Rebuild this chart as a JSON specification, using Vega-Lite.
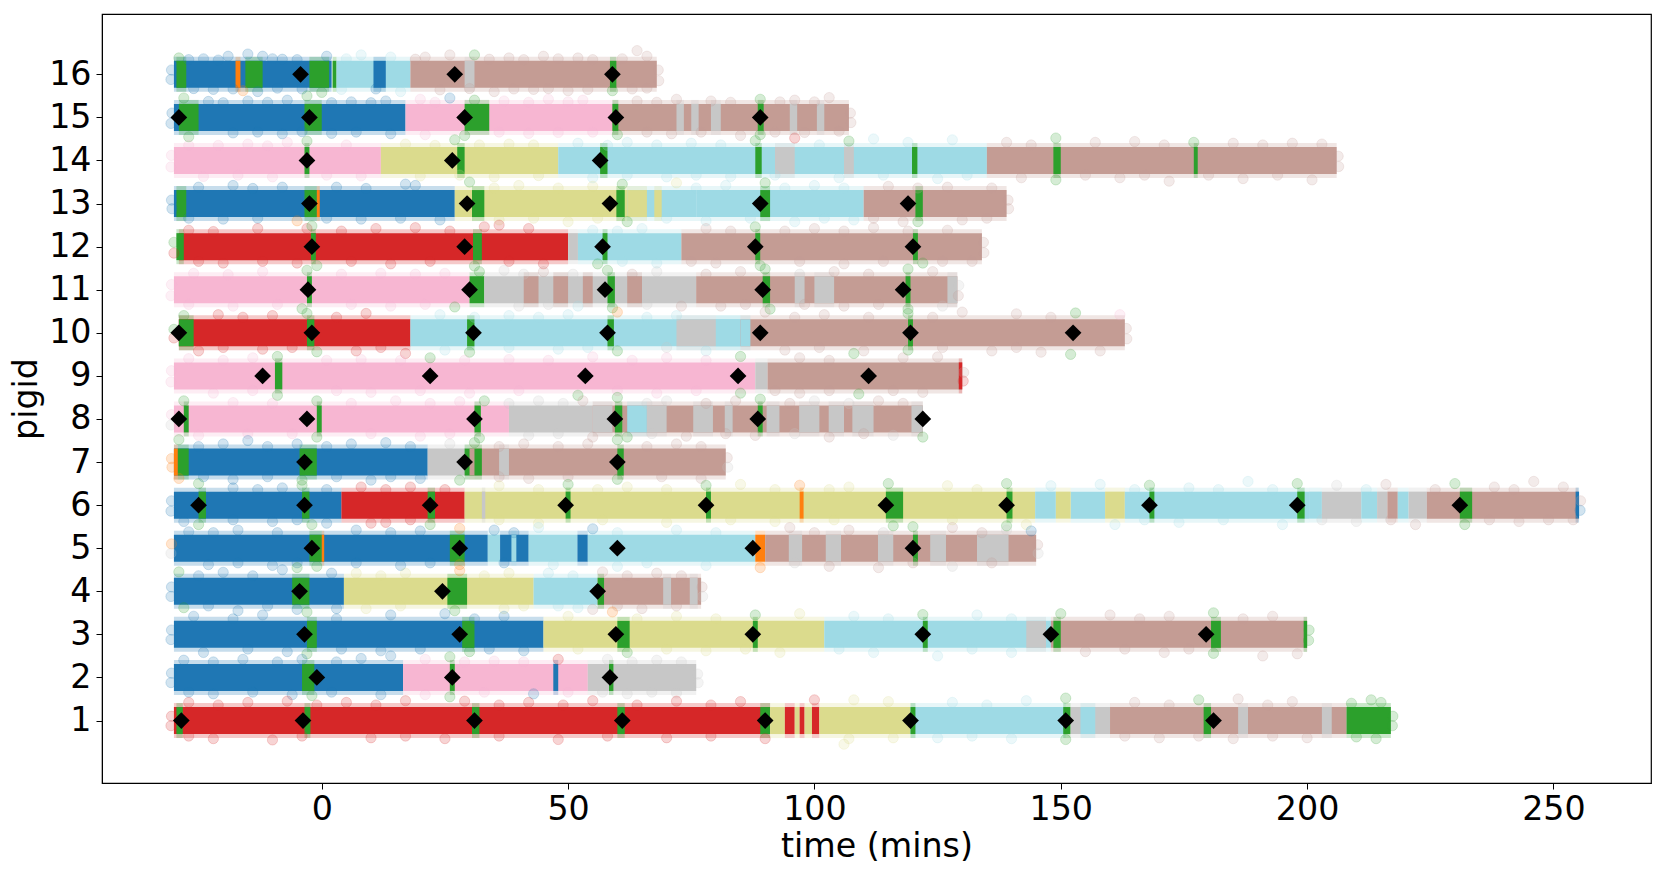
{
"$schema":"https://vega.github.io/schema/vega-lite/v6.json",
"width":1549,"height":769,
"padding":{"left":102,"top":14,"right":13,"bottom":91},
"autosize":"none",
"background":"#ffffff",
"config":{"view":{"stroke":"#000000","strokeWidth":1.2},"font":"DejaVu Sans"},
"datasets":{
"segments":[
{"p":16,"s":-30,"e":2,"c":"blue"},{"p":16,"s":-29.5,"e":-27.5,"c":"green"},{"p":16,"s":-17.5,"e":-16.5,"c":"orange"},{"p":16,"s":-15.5,"e":-12,"c":"green"},{"p":16,"s":-2.5,"e":1.5,"c":"green"},{"p":16,"s":2.2,"e":3,"c":"green"},{"p":16,"s":3,"e":18,"c":"cyan"},{"p":16,"s":10.5,"e":13,"c":"blue"},{"p":16,"s":18,"e":68,"c":"brown"},{"p":16,"s":29,"e":31,"c":"gray"},{"p":16,"s":58.5,"e":59.8,"c":"green"},
{"p":15,"s":-30,"e":17,"c":"blue"},{"p":15,"s":-29,"e":-25,"c":"green"},{"p":15,"s":-3.5,"e":0,"c":"green"},{"p":15,"s":17,"e":59,"c":"pink"},{"p":15,"s":29,"e":34,"c":"green"},{"p":15,"s":59,"e":107,"c":"brown"},{"p":15,"s":59,"e":60.2,"c":"green"},{"p":15,"s":72,"e":73.5,"c":"gray"},{"p":15,"s":75,"e":76.5,"c":"gray"},{"p":15,"s":79,"e":81,"c":"gray"},{"p":15,"s":88.5,"e":89.7,"c":"green"},{"p":15,"s":95,"e":96.5,"c":"gray"},{"p":15,"s":100.5,"e":102,"c":"gray"},
{"p":14,"s":-30,"e":12,"c":"pink"},{"p":14,"s":-3.5,"e":-2.5,"c":"green"},{"p":14,"s":12,"e":48,"c":"olive"},{"p":14,"s":27.5,"e":29,"c":"green"},{"p":14,"s":48,"e":135,"c":"cyan"},{"p":14,"s":56.5,"e":58,"c":"green"},{"p":14,"s":88,"e":89.3,"c":"green"},{"p":14,"s":92,"e":96,"c":"gray"},{"p":14,"s":106,"e":108,"c":"gray"},{"p":14,"s":119.8,"e":120.9,"c":"green"},{"p":14,"s":135,"e":206,"c":"brown"},{"p":14,"s":148.5,"e":150,"c":"green"},{"p":14,"s":177,"e":177.8,"c":"green"},
{"p":13,"s":-30,"e":27,"c":"blue"},{"p":13,"s":-29.5,"e":-27.5,"c":"green"},{"p":13,"s":-3.5,"e":-1,"c":"green"},{"p":13,"s":-1,"e":-0.4,"c":"orange"},{"p":13,"s":27,"e":62,"c":"olive"},{"p":13,"s":30.5,"e":33,"c":"green"},{"p":13,"s":59.8,"e":61.5,"c":"green"},{"p":13,"s":62,"e":76,"c":"cyan"},{"p":13,"s":62,"e":66,"c":"olive"},{"p":13,"s":67.5,"e":69,"c":"olive"},{"p":13,"s":76,"e":110,"c":"cyan"},{"p":13,"s":89,"e":91,"c":"green"},{"p":13,"s":110,"e":139,"c":"brown"},{"p":13,"s":120.5,"e":122,"c":"green"},
{"p":12,"s":-29,"e":50,"c":"red"},{"p":12,"s":-29.5,"e":-28,"c":"green"},{"p":12,"s":-2.2,"e":-1.2,"c":"green"},{"p":12,"s":30.7,"e":32.5,"c":"green"},{"p":12,"s":50,"e":52,"c":"gray"},{"p":12,"s":52,"e":73,"c":"cyan"},{"p":12,"s":57,"e":58,"c":"green"},{"p":12,"s":73,"e":134,"c":"brown"},{"p":12,"s":88,"e":89,"c":"green"},{"p":12,"s":120,"e":121,"c":"green"},
{"p":11,"s":-30,"e":30,"c":"pink"},{"p":11,"s":-3,"e":-2,"c":"green"},{"p":11,"s":30,"e":33,"c":"green"},{"p":11,"s":33,"e":76,"c":"gray"},{"p":11,"s":41,"e":44,"c":"brown"},{"p":11,"s":47,"e":50,"c":"brown"},{"p":11,"s":53,"e":55,"c":"brown"},{"p":11,"s":58,"e":59.5,"c":"green"},{"p":11,"s":62,"e":65,"c":"brown"},{"p":11,"s":76,"e":129,"c":"brown"},{"p":11,"s":89.5,"e":91,"c":"green"},{"p":11,"s":96,"e":98,"c":"gray"},{"p":11,"s":100,"e":104,"c":"gray"},{"p":11,"s":118.5,"e":119.5,"c":"green"},{"p":11,"s":127,"e":129,"c":"gray"},
{"p":10,"s":-29,"e":18,"c":"red"},{"p":10,"s":-29,"e":-26,"c":"green"},{"p":10,"s":-3,"e":-1.5,"c":"green"},{"p":10,"s":18,"e":85,"c":"cyan"},{"p":10,"s":29.5,"e":31,"c":"green"},{"p":10,"s":58,"e":59.3,"c":"green"},{"p":10,"s":72,"e":80,"c":"gray"},{"p":10,"s":80,"e":85,"c":"cyan"},{"p":10,"s":85,"e":163,"c":"brown"},{"p":10,"s":85,"e":87,"c":"cyan"},{"p":10,"s":119,"e":120,"c":"green"},
{"p":9,"s":-30,"e":88,"c":"pink"},{"p":9,"s":-9.5,"e":-8,"c":"green"},{"p":9,"s":88,"e":90.5,"c":"gray"},{"p":9,"s":90.5,"e":130,"c":"brown"},{"p":9,"s":129.3,"e":130,"c":"red"},
{"p":8,"s":-30,"e":38,"c":"pink"},{"p":8,"s":-28,"e":-27,"c":"green"},{"p":8,"s":-1,"e":0,"c":"green"},{"p":8,"s":31,"e":32.3,"c":"green"},{"p":8,"s":38,"e":55,"c":"gray"},{"p":8,"s":55,"e":122,"c":"brown"},{"p":8,"s":55,"e":59,"c":"gray"},{"p":8,"s":59.5,"e":61,"c":"green"},{"p":8,"s":62,"e":66,"c":"cyan"},{"p":8,"s":66,"e":70,"c":"gray"},{"p":8,"s":75.4,"e":79.4,"c":"gray"},{"p":8,"s":81.8,"e":83.4,"c":"gray"},{"p":8,"s":88.5,"e":89.5,"c":"green"},{"p":8,"s":90.3,"e":92.9,"c":"gray"},{"p":8,"s":96.9,"e":101,"c":"gray"},{"p":8,"s":102.9,"e":106,"c":"gray"},{"p":8,"s":107.7,"e":112,"c":"gray"},{"p":8,"s":119.7,"e":122,"c":"gray"},
{"p":7,"s":-30,"e":21.5,"c":"blue"},{"p":7,"s":-30,"e":-29.2,"c":"orange"},{"p":7,"s":-29.2,"e":-27,"c":"green"},{"p":7,"s":-4.5,"e":-1,"c":"green"},{"p":7,"s":21.5,"e":30,"c":"gray"},{"p":7,"s":29,"e":31,"c":"green"},{"p":7,"s":30,"e":82,"c":"brown"},{"p":7,"s":31,"e":32.5,"c":"green"},{"p":7,"s":36,"e":38,"c":"gray"},{"p":7,"s":60,"e":61.3,"c":"green"},
{"p":6,"s":-30,"e":4,"c":"blue"},{"p":6,"s":-25,"e":-23.5,"c":"green"},{"p":6,"s":-4,"e":-2.5,"c":"green"},{"p":6,"s":4,"e":29,"c":"red"},{"p":6,"s":21.5,"e":23,"c":"green"},{"p":6,"s":29,"e":144.8,"c":"olive"},{"p":6,"s":32.5,"e":33.2,"c":"gray"},{"p":6,"s":49.5,"e":50.5,"c":"green"},{"p":6,"s":78,"e":79,"c":"green"},{"p":6,"s":97,"e":97.8,"c":"orange"},{"p":6,"s":114.5,"e":118,"c":"green"},{"p":6,"s":139,"e":140.2,"c":"green"},{"p":6,"s":144.8,"e":149,"c":"cyan"},{"p":6,"s":152,"e":159,"c":"cyan"},{"p":6,"s":149,"e":152,"c":"olive"},{"p":6,"s":159,"e":163,"c":"olive"},{"p":6,"s":163,"e":200.4,"c":"cyan"},{"p":6,"s":168,"e":169,"c":"green"},{"p":6,"s":198,"e":199.5,"c":"green"},{"p":6,"s":200.4,"e":203,"c":"cyan"},{"p":6,"s":203,"e":211,"c":"gray"},{"p":6,"s":211,"e":214.2,"c":"cyan"},{"p":6,"s":214.2,"e":216.3,"c":"gray"},{"p":6,"s":216.3,"e":218.4,"c":"brown"},{"p":6,"s":218.4,"e":220.6,"c":"cyan"},{"p":6,"s":220.6,"e":224.3,"c":"gray"},{"p":6,"s":224.3,"e":255,"c":"brown"},{"p":6,"s":231,"e":233.5,"c":"green"},{"p":6,"s":254.5,"e":255.2,"c":"blue"},
{"p":5,"s":-30,"e":33.7,"c":"blue"},{"p":5,"s":-2.5,"e":0,"c":"green"},{"p":5,"s":0,"e":0.5,"c":"orange"},{"p":5,"s":26,"e":29,"c":"green"},{"p":5,"s":33.7,"e":36.2,"c":"cyan"},{"p":5,"s":36.2,"e":42,"c":"blue"},{"p":5,"s":38.5,"e":39.5,"c":"cyan"},{"p":5,"s":42,"e":51.9,"c":"cyan"},{"p":5,"s":51.9,"e":54,"c":"blue"},{"p":5,"s":54,"e":88,"c":"cyan"},{"p":5,"s":88,"e":90,"c":"orange"},{"p":5,"s":90,"e":145,"c":"brown"},{"p":5,"s":94.8,"e":97.5,"c":"gray"},{"p":5,"s":102.3,"e":105.4,"c":"gray"},{"p":5,"s":112.9,"e":116,"c":"gray"},{"p":5,"s":120,"e":121,"c":"green"},{"p":5,"s":123.5,"e":126.7,"c":"gray"},{"p":5,"s":133,"e":139.4,"c":"gray"},
{"p":4,"s":-30,"e":4.5,"c":"blue"},{"p":4,"s":-6,"e":-2.5,"c":"green"},{"p":4,"s":4.5,"e":43,"c":"olive"},{"p":4,"s":25.5,"e":29.5,"c":"green"},{"p":4,"s":43,"e":56,"c":"cyan"},{"p":4,"s":56,"e":77,"c":"brown"},{"p":4,"s":56,"e":57.3,"c":"green"},{"p":4,"s":69.3,"e":70.9,"c":"gray"},{"p":4,"s":74.7,"e":76.3,"c":"gray"},
{"p":3,"s":-30,"e":45,"c":"blue"},{"p":3,"s":-3,"e":-1,"c":"green"},{"p":3,"s":28.5,"e":31,"c":"green"},{"p":3,"s":45,"e":102,"c":"olive"},{"p":3,"s":60,"e":62.5,"c":"green"},{"p":3,"s":87.5,"e":88.5,"c":"green"},{"p":3,"s":102,"e":148,"c":"cyan"},{"p":3,"s":122,"e":123,"c":"green"},{"p":3,"s":143,"e":147,"c":"gray"},{"p":3,"s":148,"e":200,"c":"brown"},{"p":3,"s":148.5,"e":150,"c":"green"},{"p":3,"s":180.5,"e":182.5,"c":"green"},{"p":3,"s":199.3,"e":200,"c":"green"},
{"p":2,"s":-30,"e":16.5,"c":"blue"},{"p":2,"s":-4,"e":-1.5,"c":"green"},{"p":2,"s":16.5,"e":54,"c":"pink"},{"p":2,"s":26,"e":27,"c":"green"},{"p":2,"s":47,"e":48,"c":"blue"},{"p":2,"s":54,"e":76,"c":"gray"},{"p":2,"s":58.3,"e":59.2,"c":"green"},
{"p":1,"s":-30,"e":91,"c":"red"},{"p":1,"s":-29.5,"e":-28.2,"c":"green"},{"p":1,"s":-3.5,"e":-2.3,"c":"green"},{"p":1,"s":30.5,"e":32,"c":"green"},{"p":1,"s":60,"e":61.5,"c":"green"},{"p":1,"s":89,"e":91,"c":"green"},{"p":1,"s":91,"e":94,"c":"olive"},{"p":1,"s":94,"e":96,"c":"red"},{"p":1,"s":96,"e":97,"c":"olive"},{"p":1,"s":97,"e":98,"c":"red"},{"p":1,"s":98,"e":99.5,"c":"olive"},{"p":1,"s":99.5,"e":101,"c":"red"},{"p":1,"s":101,"e":119.5,"c":"olive"},{"p":1,"s":119.5,"e":151,"c":"cyan"},{"p":1,"s":119.5,"e":120.5,"c":"green"},{"p":1,"s":150.5,"e":152,"c":"green"},{"p":1,"s":152,"e":160,"c":"gray"},{"p":1,"s":154,"e":157,"c":"cyan"},{"p":1,"s":160,"e":208,"c":"brown"},{"p":1,"s":179,"e":180.5,"c":"green"},{"p":1,"s":186,"e":188,"c":"gray"},{"p":1,"s":203,"e":205,"c":"gray"},{"p":1,"s":208,"e":217,"c":"green"}
],
"scatter":[
{"t":-29,"y":16.38,"c":"green"},{"t":-24,"y":16.36,"c":"blue"},{"t":-19,"y":16.42,"c":"blue"},{"t":-15,"y":16.47,"c":"blue"},{"t":-12,"y":16.42,"c":"blue"},{"t":-8,"y":16.35,"c":"blue"},{"t":-22,"y":15.65,"c":"blue"},{"t":-16,"y":15.62,"c":"orange"},{"t":-13,"y":15.6,"c":"blue"},{"t":-4,"y":15.66,"c":"blue"},{"t":1,"y":16.42,"c":"blue"},{"t":0,"y":15.58,"c":"green"},{"t":8,"y":16.45,"c":"cyan"},{"t":4,"y":15.65,"c":"cyan"},{"t":14,"y":16.4,"c":"cyan"},{"t":16,"y":15.6,"c":"cyan"},{"t":21,"y":16.4,"c":"brown"},{"t":26,"y":16.45,"c":"brown"},{"t":31,"y":16.45,"c":"green"},{"t":38,"y":16.38,"c":"brown"},{"t":45,"y":16.42,"c":"brown"},{"t":52,"y":16.38,"c":"brown"},{"t":64,"y":16.55,"c":"brown"},{"t":66,"y":16.42,"c":"brown"},{"t":24,"y":15.64,"c":"brown"},{"t":35,"y":15.6,"c":"brown"},{"t":43,"y":15.65,"c":"brown"},{"t":50,"y":15.62,"c":"brown"},{"t":59,"y":15.62,"c":"green"},{"t":66,"y":15.68,"c":"brown"},
{"t":-30.5,"y":16.1,"c":"blue"},{"t":-30.6,"y":15.88,"c":"blue"},{"t":-27,"y":16.34,"c":"blue"},{"t":-21,"y":16.33,"c":"blue"},{"t":-10,"y":16.36,"c":"blue"},{"t":-5,"y":16.34,"c":"blue"},{"t":-26,"y":15.67,"c":"blue"},{"t":-18,"y":15.66,"c":"blue"},{"t":-9,"y":15.68,"c":"blue"},{"t":5,"y":16.36,"c":"cyan"},{"t":11,"y":15.66,"c":"blue"},{"t":19,"y":16.35,"c":"brown"},{"t":34,"y":16.35,"c":"brown"},{"t":41,"y":16.34,"c":"brown"},{"t":48,"y":16.36,"c":"brown"},{"t":55,"y":16.34,"c":"brown"},{"t":61,"y":16.36,"c":"brown"},{"t":30,"y":15.67,"c":"brown"},{"t":39,"y":15.66,"c":"brown"},{"t":46,"y":15.67,"c":"brown"},{"t":54,"y":15.65,"c":"brown"},{"t":63,"y":15.66,"c":"brown"},{"t":68.3,"y":16.1,"c":"brown"},{"t":68.4,"y":15.85,"c":"brown"},
{"t":-28,"y":15.45,"c":"green"},{"t":-23,"y":15.37,"c":"blue"},{"t":-15,"y":15.38,"c":"blue"},{"t":-7,"y":15.4,"c":"blue"},{"t":-3,"y":15.5,"c":"green"},{"t":6,"y":15.36,"c":"blue"},{"t":13,"y":15.38,"c":"blue"},{"t":-27,"y":14.55,"c":"green"},{"t":-18,"y":14.64,"c":"blue"},{"t":-8,"y":14.62,"c":"blue"},{"t":2,"y":14.63,"c":"blue"},{"t":14,"y":14.62,"c":"blue"},{"t":20,"y":15.42,"c":"pink"},{"t":26,"y":15.45,"c":"blue"},{"t":31,"y":15.4,"c":"green"},{"t":37,"y":15.38,"c":"pink"},{"t":46,"y":15.42,"c":"pink"},{"t":53,"y":15.4,"c":"pink"},{"t":21,"y":14.6,"c":"pink"},{"t":29,"y":14.58,"c":"green"},{"t":42,"y":14.63,"c":"pink"},{"t":60,"y":14.6,"c":"green"},{"t":64,"y":15.38,"c":"brown"},{"t":72,"y":15.42,"c":"brown"},{"t":79,"y":15.38,"c":"brown"},{"t":89,"y":15.42,"c":"green"},{"t":96,"y":15.4,"c":"brown"},{"t":103,"y":15.46,"c":"brown"},{"t":71,"y":14.62,"c":"brown"},{"t":85,"y":14.58,"c":"brown"},{"t":89,"y":14.6,"c":"green"},{"t":98,"y":14.65,"c":"brown"},{"t":105,"y":14.68,"c":"brown"},
{"t":-30.4,"y":15.1,"c":"blue"},{"t":-30.6,"y":14.86,"c":"blue"},{"t":-20,"y":15.34,"c":"blue"},{"t":-11,"y":15.35,"c":"blue"},{"t":2,"y":15.34,"c":"blue"},{"t":10,"y":15.34,"c":"blue"},{"t":-13,"y":14.66,"c":"blue"},{"t":-4,"y":14.67,"c":"blue"},{"t":7,"y":14.66,"c":"blue"},{"t":23,"y":15.35,"c":"pink"},{"t":42,"y":15.35,"c":"pink"},{"t":50,"y":15.36,"c":"pink"},{"t":36,"y":14.66,"c":"pink"},{"t":48,"y":14.65,"c":"pink"},{"t":55,"y":14.66,"c":"pink"},{"t":68,"y":15.35,"c":"brown"},{"t":83,"y":15.35,"c":"brown"},{"t":93,"y":15.36,"c":"brown"},{"t":100,"y":15.36,"c":"brown"},{"t":66,"y":14.66,"c":"brown"},{"t":77,"y":14.66,"c":"brown"},{"t":92,"y":14.66,"c":"brown"},{"t":107.3,"y":15.1,"c":"brown"},{"t":107.4,"y":14.88,"c":"brown"},
{"t":-27,"y":14.35,"c":"pink"},{"t":-15,"y":14.38,"c":"pink"},{"t":-7,"y":14.42,"c":"pink"},{"t":-3,"y":14.45,"c":"green"},{"t":5,"y":14.36,"c":"pink"},{"t":-24,"y":13.63,"c":"pink"},{"t":-10,"y":13.62,"c":"pink"},{"t":8,"y":13.64,"c":"pink"},{"t":17,"y":14.38,"c":"olive"},{"t":27,"y":14.48,"c":"green"},{"t":38,"y":14.38,"c":"olive"},{"t":20,"y":13.64,"c":"olive"},{"t":35,"y":13.62,"c":"olive"},{"t":44,"y":13.65,"c":"olive"},{"t":52,"y":14.4,"c":"cyan"},{"t":62,"y":14.42,"c":"cyan"},{"t":75,"y":14.4,"c":"cyan"},{"t":88,"y":14.46,"c":"green"},{"t":96,"y":14.52,"c":"red"},{"t":107,"y":14.45,"c":"green"},{"t":112,"y":14.5,"c":"cyan"},{"t":119,"y":14.42,"c":"cyan"},{"t":128,"y":14.48,"c":"cyan"},{"t":55,"y":13.6,"c":"cyan"},{"t":70,"y":13.62,"c":"cyan"},{"t":83,"y":13.63,"c":"cyan"},{"t":105,"y":13.6,"c":"cyan"},{"t":125,"y":13.58,"c":"cyan"},{"t":139,"y":14.42,"c":"brown"},{"t":149,"y":14.52,"c":"green"},{"t":157,"y":14.42,"c":"brown"},{"t":165,"y":14.44,"c":"brown"},{"t":177,"y":14.42,"c":"green"},{"t":185,"y":14.4,"c":"brown"},{"t":197,"y":14.4,"c":"brown"},{"t":203,"y":14.38,"c":"brown"},{"t":142,"y":13.6,"c":"brown"},{"t":149,"y":13.55,"c":"green"},{"t":162,"y":13.6,"c":"brown"},{"t":172,"y":13.52,"c":"brown"},{"t":187,"y":13.58,"c":"brown"},{"t":201,"y":13.55,"c":"brown"},
{"t":-30.5,"y":14.12,"c":"pink"},{"t":-30.6,"y":13.85,"c":"pink"},{"t":-21,"y":14.35,"c":"pink"},{"t":-11,"y":14.34,"c":"pink"},{"t":-17,"y":13.66,"c":"pink"},{"t":1,"y":13.66,"c":"pink"},{"t":23,"y":14.35,"c":"olive"},{"t":32,"y":14.36,"c":"olive"},{"t":43,"y":14.36,"c":"olive"},{"t":28,"y":13.66,"c":"olive"},{"t":58,"y":14.35,"c":"cyan"},{"t":68,"y":14.36,"c":"cyan"},{"t":81,"y":14.36,"c":"cyan"},{"t":101,"y":14.36,"c":"cyan"},{"t":62,"y":13.66,"c":"cyan"},{"t":76,"y":13.66,"c":"cyan"},{"t":92,"y":13.66,"c":"cyan"},{"t":114,"y":13.66,"c":"cyan"},{"t":131,"y":13.66,"c":"cyan"},{"t":144,"y":14.36,"c":"brown"},{"t":171,"y":14.36,"c":"brown"},{"t":191,"y":14.36,"c":"brown"},{"t":155,"y":13.66,"c":"brown"},{"t":167,"y":13.66,"c":"brown"},{"t":180,"y":13.66,"c":"brown"},{"t":194,"y":13.66,"c":"brown"},{"t":206.3,"y":14.1,"c":"brown"},{"t":206.4,"y":13.86,"c":"brown"},
{"t":-25,"y":13.38,"c":"blue"},{"t":-18,"y":13.42,"c":"blue"},{"t":-8,"y":13.38,"c":"blue"},{"t":3,"y":13.38,"c":"blue"},{"t":17,"y":13.45,"c":"blue"},{"t":19,"y":13.42,"c":"blue"},{"t":-20,"y":12.64,"c":"blue"},{"t":-5,"y":12.6,"c":"orange"},{"t":8,"y":12.64,"c":"blue"},{"t":24,"y":12.62,"c":"blue"},{"t":30,"y":13.5,"c":"green"},{"t":40,"y":13.42,"c":"olive"},{"t":55,"y":13.4,"c":"olive"},{"t":61,"y":13.45,"c":"green"},{"t":72,"y":13.48,"c":"olive"},{"t":36,"y":12.62,"c":"olive"},{"t":50,"y":12.58,"c":"olive"},{"t":62,"y":12.58,"c":"green"},{"t":82,"y":13.42,"c":"cyan"},{"t":90,"y":13.48,"c":"green"},{"t":100,"y":13.42,"c":"cyan"},{"t":78,"y":12.6,"c":"cyan"},{"t":96,"y":12.58,"c":"cyan"},{"t":108,"y":12.62,"c":"cyan"},{"t":115,"y":13.4,"c":"brown"},{"t":127,"y":13.38,"c":"brown"},{"t":136,"y":13.36,"c":"brown"},{"t":118,"y":12.58,"c":"brown"},{"t":130,"y":12.62,"c":"brown"},{"t":121,"y":12.58,"c":"green"},
{"t":-30.5,"y":13.08,"c":"blue"},{"t":-30.4,"y":12.88,"c":"blue"},{"t":-14,"y":13.35,"c":"blue"},{"t":9,"y":13.35,"c":"blue"},{"t":-27,"y":12.66,"c":"blue"},{"t":-13,"y":12.66,"c":"blue"},{"t":1,"y":12.66,"c":"blue"},{"t":16,"y":12.66,"c":"blue"},{"t":35,"y":13.36,"c":"olive"},{"t":48,"y":13.36,"c":"olive"},{"t":43,"y":12.66,"c":"olive"},{"t":56,"y":12.66,"c":"olive"},{"t":76,"y":13.36,"c":"cyan"},{"t":94,"y":13.36,"c":"cyan"},{"t":106,"y":13.36,"c":"cyan"},{"t":70,"y":12.66,"c":"cyan"},{"t":87,"y":12.66,"c":"cyan"},{"t":102,"y":12.66,"c":"cyan"},{"t":121,"y":13.36,"c":"brown"},{"t":112,"y":12.66,"c":"brown"},{"t":135,"y":12.66,"c":"brown"},{"t":139.3,"y":13.08,"c":"brown"},{"t":139.4,"y":12.88,"c":"brown"},
{"t":-27,"y":12.38,"c":"red"},{"t":-13,"y":12.42,"c":"red"},{"t":-3,"y":12.42,"c":"red"},{"t":-2,"y":12.48,"c":"green"},{"t":11,"y":12.42,"c":"red"},{"t":19,"y":12.44,"c":"red"},{"t":33,"y":12.46,"c":"red"},{"t":36,"y":12.5,"c":"red"},{"t":42,"y":12.42,"c":"red"},{"t":-20,"y":11.62,"c":"red"},{"t":-5,"y":11.62,"c":"red"},{"t":-1,"y":11.56,"c":"green"},{"t":14,"y":11.6,"c":"red"},{"t":31,"y":11.55,"c":"green"},{"t":45,"y":11.6,"c":"red"},{"t":55,"y":12.38,"c":"cyan"},{"t":65,"y":12.42,"c":"cyan"},{"t":56,"y":11.6,"c":"green"},{"t":68,"y":11.62,"c":"cyan"},{"t":78,"y":12.42,"c":"brown"},{"t":88,"y":12.46,"c":"green"},{"t":100,"y":12.42,"c":"brown"},{"t":112,"y":12.44,"c":"brown"},{"t":127,"y":12.38,"c":"brown"},{"t":80,"y":11.62,"c":"brown"},{"t":89,"y":11.56,"c":"green"},{"t":106,"y":11.6,"c":"brown"},{"t":122,"y":11.62,"c":"green"},{"t":132,"y":11.66,"c":"brown"},
{"t":-30,"y":12.1,"c":"green"},{"t":-30,"y":11.85,"c":"red"},{"t":-22,"y":12.35,"c":"red"},{"t":4,"y":12.36,"c":"red"},{"t":26,"y":12.36,"c":"red"},{"t":-25,"y":11.66,"c":"red"},{"t":-12,"y":11.66,"c":"red"},{"t":6,"y":11.66,"c":"red"},{"t":22,"y":11.66,"c":"red"},{"t":38,"y":11.66,"c":"red"},{"t":60,"y":12.36,"c":"cyan"},{"t":61,"y":11.66,"c":"cyan"},{"t":83,"y":12.36,"c":"brown"},{"t":94,"y":12.36,"c":"brown"},{"t":106,"y":12.36,"c":"brown"},{"t":119,"y":12.36,"c":"brown"},{"t":75,"y":11.66,"c":"brown"},{"t":97,"y":11.66,"c":"brown"},{"t":114,"y":11.66,"c":"brown"},{"t":126,"y":11.66,"c":"brown"},{"t":134.3,"y":12.1,"c":"brown"},{"t":134.4,"y":11.86,"c":"brown"},
{"t":-26,"y":11.38,"c":"pink"},{"t":-12,"y":11.42,"c":"pink"},{"t":-3,"y":11.45,"c":"green"},{"t":12,"y":11.38,"c":"pink"},{"t":25,"y":11.38,"c":"pink"},{"t":-18,"y":10.62,"c":"pink"},{"t":-4,"y":10.56,"c":"green"},{"t":14,"y":10.62,"c":"pink"},{"t":27,"y":10.6,"c":"green"},{"t":32,"y":11.42,"c":"green"},{"t":37,"y":11.45,"c":"gray"},{"t":45,"y":11.42,"c":"brown"},{"t":58,"y":11.45,"c":"green"},{"t":68,"y":11.42,"c":"gray"},{"t":40,"y":10.62,"c":"gray"},{"t":52,"y":10.62,"c":"cyan"},{"t":59,"y":10.58,"c":"green"},{"t":73,"y":10.62,"c":"brown"},{"t":85,"y":11.42,"c":"brown"},{"t":90,"y":11.48,"c":"green"},{"t":104,"y":11.42,"c":"brown"},{"t":119,"y":11.48,"c":"green"},{"t":124,"y":11.42,"c":"brown"},{"t":81,"y":10.62,"c":"brown"},{"t":91,"y":10.55,"c":"green"},{"t":106,"y":10.62,"c":"brown"},{"t":119,"y":10.55,"c":"green"},{"t":126,"y":10.62,"c":"gray"},
{"t":-30.5,"y":11.12,"c":"pink"},{"t":-30.6,"y":10.86,"c":"pink"},{"t":-19,"y":11.35,"c":"pink"},{"t":4,"y":11.36,"c":"pink"},{"t":19,"y":11.36,"c":"pink"},{"t":-27,"y":10.66,"c":"pink"},{"t":-9,"y":10.66,"c":"pink"},{"t":6,"y":10.66,"c":"pink"},{"t":21,"y":10.66,"c":"pink"},{"t":41,"y":11.36,"c":"gray"},{"t":51,"y":11.36,"c":"gray"},{"t":63,"y":11.36,"c":"brown"},{"t":46,"y":10.66,"c":"gray"},{"t":66,"y":10.66,"c":"gray"},{"t":78,"y":11.36,"c":"brown"},{"t":97,"y":11.36,"c":"gray"},{"t":111,"y":11.36,"c":"brown"},{"t":86,"y":10.66,"c":"brown"},{"t":98,"y":10.66,"c":"brown"},{"t":113,"y":10.66,"c":"brown"},{"t":129.3,"y":11.1,"c":"gray"},{"t":129.2,"y":10.86,"c":"brown"},
{"t":-28,"y":10.4,"c":"green"},{"t":-21,"y":10.42,"c":"red"},{"t":-10,"y":10.4,"c":"red"},{"t":-3,"y":10.45,"c":"green"},{"t":9,"y":10.45,"c":"red"},{"t":-25,"y":9.58,"c":"red"},{"t":-12,"y":9.62,"c":"red"},{"t":-1,"y":9.56,"c":"green"},{"t":7,"y":9.58,"c":"red"},{"t":17,"y":9.52,"c":"red"},{"t":24,"y":10.42,"c":"cyan"},{"t":38,"y":10.4,"c":"cyan"},{"t":50,"y":10.42,"c":"cyan"},{"t":60,"y":10.48,"c":"orange"},{"t":72,"y":10.4,"c":"cyan"},{"t":25,"y":9.6,"c":"cyan"},{"t":30,"y":9.55,"c":"green"},{"t":48,"y":9.62,"c":"cyan"},{"t":60,"y":9.58,"c":"green"},{"t":78,"y":9.58,"c":"cyan"},{"t":90,"y":10.48,"c":"brown"},{"t":102,"y":10.42,"c":"brown"},{"t":119,"y":10.45,"c":"green"},{"t":130,"y":10.48,"c":"brown"},{"t":141,"y":10.44,"c":"brown"},{"t":153,"y":10.46,"c":"green"},{"t":162,"y":10.42,"c":"pink"},{"t":94,"y":9.6,"c":"brown"},{"t":110,"y":9.58,"c":"brown"},{"t":119,"y":9.6,"c":"green"},{"t":136,"y":9.58,"c":"brown"},{"t":146,"y":9.55,"c":"brown"},{"t":152,"y":9.5,"c":"green"},{"t":158,"y":9.58,"c":"brown"},
{"t":-30,"y":10.08,"c":"green"},{"t":-30,"y":9.88,"c":"red"},{"t":-16,"y":10.36,"c":"red"},{"t":3,"y":10.36,"c":"red"},{"t":-20,"y":9.66,"c":"red"},{"t":-6,"y":9.66,"c":"red"},{"t":12,"y":9.66,"c":"red"},{"t":31,"y":10.36,"c":"cyan"},{"t":44,"y":10.36,"c":"cyan"},{"t":66,"y":10.36,"c":"cyan"},{"t":38,"y":9.66,"c":"cyan"},{"t":54,"y":9.66,"c":"cyan"},{"t":70,"y":9.66,"c":"gray"},{"t":96,"y":10.36,"c":"brown"},{"t":111,"y":10.36,"c":"brown"},{"t":124,"y":10.36,"c":"brown"},{"t":148,"y":10.36,"c":"brown"},{"t":101,"y":9.66,"c":"brown"},{"t":126,"y":9.66,"c":"brown"},{"t":141,"y":9.66,"c":"brown"},{"t":163.3,"y":10.1,"c":"brown"},{"t":163.4,"y":9.86,"c":"brown"},
{"t":-27,"y":9.4,"c":"pink"},{"t":-14,"y":9.42,"c":"pink"},{"t":-9,"y":9.45,"c":"green"},{"t":8,"y":9.38,"c":"pink"},{"t":22,"y":9.42,"c":"green"},{"t":38,"y":9.38,"c":"pink"},{"t":55,"y":9.44,"c":"pink"},{"t":70,"y":9.42,"c":"pink"},{"t":85,"y":9.45,"c":"green"},{"t":-22,"y":8.6,"c":"pink"},{"t":-9,"y":8.55,"c":"green"},{"t":10,"y":8.62,"c":"pink"},{"t":30,"y":8.6,"c":"pink"},{"t":52,"y":8.55,"c":"green"},{"t":68,"y":8.6,"c":"pink"},{"t":85,"y":8.6,"c":"green"},{"t":97,"y":9.42,"c":"brown"},{"t":108,"y":9.52,"c":"green"},{"t":118,"y":9.42,"c":"brown"},{"t":125,"y":9.44,"c":"brown"},{"t":97,"y":8.6,"c":"brown"},{"t":109,"y":8.58,"c":"green"},{"t":122,"y":8.62,"c":"brown"},
{"t":-30.5,"y":9.12,"c":"pink"},{"t":-30.6,"y":8.86,"c":"pink"},{"t":-20,"y":9.36,"c":"pink"},{"t":1,"y":9.36,"c":"pink"},{"t":16,"y":9.36,"c":"pink"},{"t":29,"y":9.36,"c":"pink"},{"t":46,"y":9.36,"c":"pink"},{"t":63,"y":9.36,"c":"pink"},{"t":78,"y":9.36,"c":"pink"},{"t":-14,"y":8.66,"c":"pink"},{"t":3,"y":8.66,"c":"pink"},{"t":20,"y":8.66,"c":"pink"},{"t":40,"y":8.66,"c":"pink"},{"t":60,"y":8.66,"c":"pink"},{"t":76,"y":8.66,"c":"pink"},{"t":103,"y":9.36,"c":"brown"},{"t":92,"y":8.66,"c":"brown"},{"t":103,"y":8.66,"c":"brown"},{"t":116,"y":8.66,"c":"brown"},{"t":130.3,"y":9.08,"c":"brown"},{"t":130.2,"y":8.88,"c":"red"},
{"t":-28,"y":8.42,"c":"green"},{"t":-18,"y":8.38,"c":"pink"},{"t":-1,"y":8.42,"c":"green"},{"t":15,"y":8.42,"c":"pink"},{"t":28,"y":8.4,"c":"pink"},{"t":-25,"y":7.62,"c":"pink"},{"t":-1,"y":7.58,"c":"green"},{"t":20,"y":7.6,"c":"pink"},{"t":32,"y":7.56,"c":"green"},{"t":33,"y":8.42,"c":"green"},{"t":44,"y":8.42,"c":"gray"},{"t":53,"y":8.42,"c":"brown"},{"t":60,"y":8.5,"c":"green"},{"t":70,"y":8.42,"c":"gray"},{"t":42,"y":7.62,"c":"gray"},{"t":55,"y":7.58,"c":"brown"},{"t":62,"y":7.58,"c":"green"},{"t":74,"y":7.6,"c":"brown"},{"t":84,"y":8.42,"c":"brown"},{"t":89,"y":8.46,"c":"green"},{"t":100,"y":8.42,"c":"gray"},{"t":113,"y":8.42,"c":"brown"},{"t":88,"y":7.62,"c":"brown"},{"t":103,"y":7.58,"c":"brown"},{"t":116,"y":7.62,"c":"gray"},{"t":122,"y":7.58,"c":"green"},
{"t":-30.5,"y":8.1,"c":"pink"},{"t":-30.6,"y":7.86,"c":"gray"},{"t":-10,"y":8.36,"c":"pink"},{"t":6,"y":8.36,"c":"pink"},{"t":22,"y":8.36,"c":"pink"},{"t":-15,"y":7.66,"c":"pink"},{"t":-6,"y":7.66,"c":"pink"},{"t":10,"y":7.66,"c":"pink"},{"t":26,"y":7.66,"c":"pink"},{"t":38,"y":8.36,"c":"gray"},{"t":49,"y":8.36,"c":"gray"},{"t":66,"y":8.36,"c":"gray"},{"t":48,"y":7.66,"c":"gray"},{"t":67,"y":7.66,"c":"gray"},{"t":78,"y":8.36,"c":"brown"},{"t":95,"y":8.36,"c":"brown"},{"t":107,"y":8.36,"c":"gray"},{"t":118,"y":8.36,"c":"brown"},{"t":82,"y":7.66,"c":"brown"},{"t":96,"y":7.66,"c":"gray"},{"t":110,"y":7.66,"c":"brown"},
{"t":-29,"y":7.52,"c":"green"},{"t":-20,"y":7.42,"c":"blue"},{"t":-15,"y":7.5,"c":"blue"},{"t":-5,"y":7.42,"c":"blue"},{"t":6,"y":7.42,"c":"blue"},{"t":13,"y":7.45,"c":"blue"},{"t":-29,"y":6.62,"c":"orange"},{"t":-18,"y":6.6,"c":"blue"},{"t":-4,"y":6.58,"c":"green"},{"t":10,"y":6.58,"c":"blue"},{"t":20,"y":6.62,"c":"blue"},{"t":26,"y":7.42,"c":"gray"},{"t":31,"y":7.45,"c":"green"},{"t":41,"y":7.42,"c":"brown"},{"t":54,"y":7.42,"c":"brown"},{"t":60,"y":7.52,"c":"green"},{"t":72,"y":7.42,"c":"brown"},{"t":28,"y":6.58,"c":"green"},{"t":42,"y":6.62,"c":"brown"},{"t":60,"y":6.6,"c":"green"},{"t":77,"y":6.62,"c":"brown"},
{"t":-30.5,"y":7.08,"c":"orange"},{"t":-30.4,"y":6.88,"c":"orange"},{"t":-25,"y":7.36,"c":"blue"},{"t":-11,"y":7.36,"c":"blue"},{"t":1,"y":7.36,"c":"blue"},{"t":18,"y":7.36,"c":"blue"},{"t":-24,"y":6.66,"c":"blue"},{"t":-11,"y":6.66,"c":"blue"},{"t":3,"y":6.66,"c":"blue"},{"t":14,"y":6.66,"c":"blue"},{"t":36,"y":7.36,"c":"brown"},{"t":48,"y":7.36,"c":"brown"},{"t":66,"y":7.36,"c":"brown"},{"t":77,"y":7.36,"c":"brown"},{"t":36,"y":6.66,"c":"brown"},{"t":50,"y":6.66,"c":"brown"},{"t":69,"y":6.66,"c":"brown"},{"t":82.3,"y":7.1,"c":"brown"},{"t":82.4,"y":6.88,"c":"gray"},
{"t":-25,"y":6.5,"c":"green"},{"t":-18,"y":6.4,"c":"blue"},{"t":-8,"y":6.4,"c":"blue"},{"t":-4,"y":6.46,"c":"green"},{"t":-28,"y":5.62,"c":"blue"},{"t":-25,"y":5.55,"c":"green"},{"t":-10,"y":5.62,"c":"blue"},{"t":1,"y":5.58,"c":"blue"},{"t":8,"y":6.42,"c":"red"},{"t":18,"y":6.42,"c":"red"},{"t":22,"y":5.55,"c":"green"},{"t":10,"y":5.58,"c":"red"},{"t":13,"y":5.6,"c":"red"},{"t":36,"y":6.45,"c":"olive"},{"t":50,"y":6.48,"c":"green"},{"t":62,"y":6.42,"c":"olive"},{"t":78,"y":6.46,"c":"green"},{"t":85,"y":6.48,"c":"olive"},{"t":97,"y":6.46,"c":"orange"},{"t":107,"y":6.42,"c":"olive"},{"t":115,"y":6.5,"c":"green"},{"t":127,"y":6.45,"c":"olive"},{"t":139,"y":6.5,"c":"green"},{"t":44,"y":5.58,"c":"olive"},{"t":70,"y":5.6,"c":"olive"},{"t":92,"y":5.62,"c":"olive"},{"t":116,"y":5.52,"c":"green"},{"t":139,"y":5.52,"c":"green"},{"t":143,"y":5.55,"c":"olive"},{"t":148,"y":6.45,"c":"cyan"},{"t":158,"y":6.48,"c":"cyan"},{"t":168,"y":6.46,"c":"green"},{"t":176,"y":6.4,"c":"cyan"},{"t":188,"y":6.55,"c":"cyan"},{"t":198,"y":6.5,"c":"green"},{"t":161,"y":5.55,"c":"cyan"},{"t":174,"y":5.6,"c":"cyan"},{"t":195,"y":5.55,"c":"cyan"},{"t":206,"y":6.46,"c":"gray"},{"t":216,"y":6.48,"c":"brown"},{"t":230,"y":6.5,"c":"green"},{"t":238,"y":6.42,"c":"brown"},{"t":246,"y":6.55,"c":"brown"},{"t":252,"y":6.42,"c":"brown"},{"t":210,"y":5.62,"c":"gray"},{"t":222,"y":5.55,"c":"brown"},{"t":232,"y":5.55,"c":"green"},{"t":243,"y":5.62,"c":"brown"},{"t":254,"y":5.66,"c":"brown"},
{"t":-30.5,"y":6.1,"c":"blue"},{"t":-30.6,"y":5.86,"c":"blue"},{"t":-13,"y":6.36,"c":"blue"},{"t":1,"y":6.36,"c":"blue"},{"t":-18,"y":5.66,"c":"blue"},{"t":-5,"y":5.66,"c":"blue"},{"t":13,"y":6.36,"c":"red"},{"t":25,"y":6.36,"c":"red"},{"t":18,"y":5.66,"c":"red"},{"t":44,"y":6.36,"c":"olive"},{"t":56,"y":6.36,"c":"olive"},{"t":70,"y":6.36,"c":"olive"},{"t":92,"y":6.36,"c":"olive"},{"t":103,"y":6.36,"c":"olive"},{"t":133,"y":6.36,"c":"olive"},{"t":36,"y":5.66,"c":"olive"},{"t":57,"y":5.66,"c":"olive"},{"t":83,"y":5.66,"c":"olive"},{"t":104,"y":5.66,"c":"olive"},{"t":128,"y":5.66,"c":"olive"},{"t":165,"y":6.36,"c":"cyan"},{"t":182,"y":6.36,"c":"cyan"},{"t":193,"y":6.36,"c":"cyan"},{"t":167,"y":5.66,"c":"cyan"},{"t":183,"y":5.66,"c":"cyan"},{"t":203,"y":5.66,"c":"gray"},{"t":212,"y":6.36,"c":"cyan"},{"t":226,"y":6.36,"c":"brown"},{"t":242,"y":6.36,"c":"brown"},{"t":217,"y":5.66,"c":"brown"},{"t":237,"y":5.66,"c":"brown"},{"t":249,"y":5.66,"c":"brown"},{"t":255.5,"y":6.1,"c":"brown"},{"t":255.4,"y":5.88,"c":"blue"},
{"t":-27,"y":5.38,"c":"blue"},{"t":-17,"y":5.42,"c":"blue"},{"t":-2,"y":5.55,"c":"green"},{"t":7,"y":5.42,"c":"blue"},{"t":20,"y":5.4,"c":"blue"},{"t":28,"y":5.46,"c":"orange"},{"t":35,"y":5.42,"c":"blue"},{"t":44,"y":5.48,"c":"cyan"},{"t":55,"y":5.45,"c":"blue"},{"t":-23,"y":4.62,"c":"blue"},{"t":-10,"y":4.6,"c":"blue"},{"t":-1,"y":4.58,"c":"green"},{"t":16,"y":4.6,"c":"blue"},{"t":28,"y":4.62,"c":"orange"},{"t":47,"y":4.62,"c":"cyan"},{"t":60,"y":4.58,"c":"cyan"},{"t":72,"y":5.42,"c":"cyan"},{"t":78,"y":4.6,"c":"cyan"},{"t":89,"y":4.55,"c":"orange"},{"t":95,"y":5.48,"c":"brown"},{"t":107,"y":5.42,"c":"brown"},{"t":120,"y":5.5,"c":"green"},{"t":128,"y":5.48,"c":"brown"},{"t":139,"y":5.42,"c":"gray"},{"t":103,"y":4.58,"c":"brown"},{"t":113,"y":4.55,"c":"brown"},{"t":128,"y":4.58,"c":"gray"},{"t":144,"y":5.4,"c":"blue"},
{"t":-30.5,"y":5.1,"c":"orange"},{"t":-30.6,"y":4.88,"c":"gray"},{"t":-22,"y":5.36,"c":"blue"},{"t":-9,"y":5.36,"c":"blue"},{"t":14,"y":5.36,"c":"blue"},{"t":-17,"y":4.66,"c":"blue"},{"t":-5,"y":4.66,"c":"blue"},{"t":7,"y":4.66,"c":"blue"},{"t":22,"y":4.66,"c":"blue"},{"t":39,"y":5.36,"c":"blue"},{"t":60,"y":5.36,"c":"cyan"},{"t":80,"y":5.36,"c":"cyan"},{"t":37,"y":4.66,"c":"blue"},{"t":66,"y":4.66,"c":"cyan"},{"t":100,"y":5.36,"c":"brown"},{"t":114,"y":5.36,"c":"gray"},{"t":134,"y":5.36,"c":"brown"},{"t":96,"y":4.66,"c":"gray"},{"t":120,"y":4.66,"c":"brown"},{"t":136,"y":4.66,"c":"brown"},{"t":145.3,"y":5.08,"c":"brown"},{"t":145.4,"y":4.88,"c":"gray"},
{"t":-29,"y":4.45,"c":"green"},{"t":-20,"y":4.44,"c":"blue"},{"t":-8,"y":4.5,"c":"blue"},{"t":-5,"y":4.55,"c":"green"},{"t":2,"y":4.42,"c":"blue"},{"t":-28,"y":3.62,"c":"green"},{"t":-17,"y":3.55,"c":"blue"},{"t":-5,"y":3.58,"c":"blue"},{"t":3,"y":3.6,"c":"blue"},{"t":7,"y":4.42,"c":"olive"},{"t":17,"y":4.42,"c":"olive"},{"t":28,"y":4.48,"c":"orange"},{"t":38,"y":4.42,"c":"olive"},{"t":9,"y":3.6,"c":"olive"},{"t":27,"y":3.55,"c":"green"},{"t":37,"y":3.6,"c":"olive"},{"t":46,"y":4.42,"c":"cyan"},{"t":52,"y":3.62,"c":"cyan"},{"t":57,"y":4.45,"c":"brown"},{"t":68,"y":4.42,"c":"brown"},{"t":55,"y":3.58,"c":"brown"},{"t":65,"y":3.6,"c":"brown"},
{"t":-30.5,"y":4.1,"c":"blue"},{"t":-30.6,"y":3.88,"c":"blue"},{"t":-25,"y":4.36,"c":"blue"},{"t":-14,"y":4.36,"c":"blue"},{"t":-23,"y":3.66,"c":"blue"},{"t":-11,"y":3.66,"c":"blue"},{"t":12,"y":4.36,"c":"olive"},{"t":33,"y":4.36,"c":"olive"},{"t":16,"y":3.66,"c":"olive"},{"t":41,"y":3.66,"c":"olive"},{"t":51,"y":4.36,"c":"cyan"},{"t":48,"y":3.66,"c":"cyan"},{"t":62,"y":4.36,"c":"brown"},{"t":73,"y":4.36,"c":"brown"},{"t":60,"y":3.66,"c":"brown"},{"t":72,"y":3.66,"c":"brown"},{"t":77.2,"y":4.1,"c":"brown"},{"t":77.3,"y":3.88,"c":"gray"},
{"t":-26,"y":3.42,"c":"blue"},{"t":-12,"y":3.45,"c":"blue"},{"t":-3,"y":3.52,"c":"green"},{"t":14,"y":3.45,"c":"blue"},{"t":25,"y":3.48,"c":"blue"},{"t":37,"y":3.42,"c":"blue"},{"t":-24,"y":2.58,"c":"blue"},{"t":-7,"y":2.6,"c":"blue"},{"t":-3,"y":2.55,"c":"green"},{"t":12,"y":2.62,"c":"blue"},{"t":30,"y":2.6,"c":"green"},{"t":41,"y":2.62,"c":"blue"},{"t":50,"y":3.42,"c":"olive"},{"t":59,"y":3.52,"c":"orange"},{"t":72,"y":3.42,"c":"olive"},{"t":88,"y":3.45,"c":"green"},{"t":97,"y":3.48,"c":"olive"},{"t":62,"y":2.58,"c":"green"},{"t":78,"y":2.62,"c":"olive"},{"t":93,"y":2.58,"c":"olive"},{"t":108,"y":3.42,"c":"cyan"},{"t":122,"y":3.46,"c":"green"},{"t":133,"y":3.45,"c":"cyan"},{"t":112,"y":2.58,"c":"cyan"},{"t":125,"y":2.5,"c":"cyan"},{"t":140,"y":2.58,"c":"cyan"},{"t":150,"y":3.48,"c":"green"},{"t":160,"y":3.45,"c":"brown"},{"t":172,"y":3.42,"c":"brown"},{"t":181,"y":3.5,"c":"green"},{"t":193,"y":3.42,"c":"brown"},{"t":155,"y":2.6,"c":"brown"},{"t":171,"y":2.58,"c":"brown"},{"t":181,"y":2.56,"c":"green"},{"t":191,"y":2.5,"c":"brown"},{"t":198,"y":2.55,"c":"brown"},
{"t":-30.5,"y":3.1,"c":"blue"},{"t":-30.6,"y":2.88,"c":"blue"},{"t":-18,"y":3.36,"c":"blue"},{"t":3,"y":3.36,"c":"blue"},{"t":31,"y":3.36,"c":"blue"},{"t":-15,"y":2.66,"c":"blue"},{"t":4,"y":2.66,"c":"blue"},{"t":20,"y":2.66,"c":"blue"},{"t":34,"y":2.66,"c":"blue"},{"t":64,"y":3.36,"c":"olive"},{"t":80,"y":3.36,"c":"olive"},{"t":52,"y":2.66,"c":"olive"},{"t":70,"y":2.66,"c":"olive"},{"t":86,"y":2.66,"c":"olive"},{"t":115,"y":3.36,"c":"cyan"},{"t":140,"y":3.36,"c":"cyan"},{"t":105,"y":2.66,"c":"cyan"},{"t":132,"y":2.66,"c":"cyan"},{"t":166,"y":3.36,"c":"brown"},{"t":187,"y":3.36,"c":"brown"},{"t":163,"y":2.66,"c":"brown"},{"t":176,"y":2.66,"c":"brown"},{"t":200.4,"y":3.1,"c":"green"},{"t":200.3,"y":2.86,"c":"green"},
{"t":-28,"y":2.4,"c":"blue"},{"t":-16,"y":2.42,"c":"blue"},{"t":-4,"y":2.42,"c":"blue"},{"t":8,"y":2.44,"c":"blue"},{"t":14,"y":2.5,"c":"blue"},{"t":-22,"y":1.62,"c":"blue"},{"t":-6,"y":1.6,"c":"blue"},{"t":-2,"y":1.58,"c":"green"},{"t":12,"y":1.6,"c":"blue"},{"t":21,"y":2.42,"c":"pink"},{"t":35,"y":2.38,"c":"pink"},{"t":48,"y":2.42,"c":"red"},{"t":26,"y":2.48,"c":"green"},{"t":21,"y":1.6,"c":"pink"},{"t":26,"y":1.55,"c":"green"},{"t":43,"y":1.62,"c":"blue"},{"t":58,"y":2.42,"c":"gray"},{"t":68,"y":2.4,"c":"gray"},{"t":62,"y":1.62,"c":"gray"},{"t":72,"y":1.64,"c":"gray"},
{"t":-30.5,"y":2.1,"c":"blue"},{"t":-30.6,"y":1.88,"c":"blue"},{"t":-22,"y":2.36,"c":"blue"},{"t":-9,"y":2.36,"c":"blue"},{"t":3,"y":2.36,"c":"blue"},{"t":-27,"y":1.66,"c":"blue"},{"t":-14,"y":1.66,"c":"blue"},{"t":2,"y":1.66,"c":"blue"},{"t":29,"y":2.36,"c":"pink"},{"t":41,"y":2.36,"c":"pink"},{"t":33,"y":1.66,"c":"pink"},{"t":50,"y":1.66,"c":"pink"},{"t":63,"y":2.36,"c":"gray"},{"t":73,"y":2.36,"c":"gray"},{"t":57,"y":1.66,"c":"gray"},{"t":67,"y":1.66,"c":"gray"},{"t":76.3,"y":2.08,"c":"gray"},{"t":76.4,"y":1.88,"c":"gray"},
{"t":-27,"y":1.42,"c":"red"},{"t":-15,"y":1.42,"c":"red"},{"t":-7,"y":1.45,"c":"red"},{"t":5,"y":1.42,"c":"red"},{"t":17,"y":1.46,"c":"red"},{"t":29,"y":1.45,"c":"red"},{"t":42,"y":1.42,"c":"red"},{"t":55,"y":1.46,"c":"red"},{"t":72,"y":1.45,"c":"red"},{"t":85,"y":1.44,"c":"red"},{"t":-22,"y":0.58,"c":"red"},{"t":-10,"y":0.55,"c":"red"},{"t":10,"y":0.6,"c":"red"},{"t":25,"y":0.58,"c":"red"},{"t":48,"y":0.56,"c":"red"},{"t":70,"y":0.6,"c":"red"},{"t":90,"y":0.58,"c":"red"},{"t":100,"y":1.48,"c":"red"},{"t":108,"y":1.48,"c":"olive"},{"t":115,"y":1.44,"c":"olive"},{"t":107,"y":0.58,"c":"olive"},{"t":106,"y":0.45,"c":"olive"},{"t":116,"y":0.6,"c":"olive"},{"t":128,"y":1.42,"c":"cyan"},{"t":143,"y":1.46,"c":"cyan"},{"t":151,"y":1.52,"c":"green"},{"t":125,"y":0.6,"c":"cyan"},{"t":140,"y":0.58,"c":"cyan"},{"t":151,"y":0.56,"c":"green"},{"t":165,"y":1.42,"c":"brown"},{"t":178,"y":1.48,"c":"green"},{"t":186,"y":1.5,"c":"brown"},{"t":197,"y":1.44,"c":"brown"},{"t":170,"y":0.6,"c":"brown"},{"t":185,"y":0.58,"c":"brown"},{"t":200,"y":0.6,"c":"brown"},{"t":209,"y":1.4,"c":"green"},{"t":213,"y":1.48,"c":"green"},{"t":215,"y":1.42,"c":"green"},{"t":210,"y":0.62,"c":"green"},{"t":214,"y":0.58,"c":"green"},
{"t":-30.5,"y":1.1,"c":"red"},{"t":-30.6,"y":0.88,"c":"red"},{"t":-21,"y":1.36,"c":"red"},{"t":-1,"y":1.36,"c":"red"},{"t":11,"y":1.36,"c":"red"},{"t":36,"y":1.36,"c":"red"},{"t":49,"y":1.36,"c":"red"},{"t":64,"y":1.36,"c":"red"},{"t":79,"y":1.36,"c":"red"},{"t":-27,"y":0.64,"c":"red"},{"t":-4,"y":0.64,"c":"red"},{"t":17,"y":0.64,"c":"red"},{"t":36,"y":0.64,"c":"red"},{"t":58,"y":0.64,"c":"red"},{"t":79,"y":0.64,"c":"red"},{"t":135,"y":1.36,"c":"cyan"},{"t":132,"y":0.64,"c":"cyan"},{"t":172,"y":1.36,"c":"brown"},{"t":192,"y":1.36,"c":"brown"},{"t":163,"y":0.64,"c":"brown"},{"t":178,"y":0.64,"c":"brown"},{"t":193,"y":0.64,"c":"brown"},{"t":217.4,"y":1.1,"c":"green"},{"t":217.3,"y":0.88,"c":"green"}
],
"events":[
{"t":-4.3,"p":16},{"t":27,"p":16},{"t":59,"p":16},
{"t":-29,"p":15},{"t":-2.5,"p":15},{"t":29,"p":15},{"t":59.7,"p":15},{"t":89,"p":15},
{"t":-3,"p":14},{"t":26.5,"p":14},{"t":56.5,"p":14},
{"t":-2.5,"p":13},{"t":29.5,"p":13},{"t":58.5,"p":13},{"t":89,"p":13},{"t":119,"p":13},
{"t":-2,"p":12},{"t":29,"p":12},{"t":57,"p":12},{"t":88,"p":12},{"t":120,"p":12},
{"t":-2.8,"p":11},{"t":30,"p":11},{"t":57.5,"p":11},{"t":89.5,"p":11},{"t":118,"p":11},
{"t":-29,"p":10},{"t":-2,"p":10},{"t":30.8,"p":10},{"t":58,"p":10},{"t":89,"p":10},{"t":119.5,"p":10},{"t":152.5,"p":10},
{"t":-12,"p":9},{"t":22,"p":9},{"t":53.5,"p":9},{"t":84.5,"p":9},{"t":111,"p":9},
{"t":-29,"p":8},{"t":-3,"p":8},{"t":31,"p":8},{"t":59.5,"p":8},{"t":88.5,"p":8},{"t":122,"p":8},
{"t":-3.5,"p":7},{"t":29,"p":7},{"t":60,"p":7},
{"t":-25,"p":6},{"t":-3.5,"p":6},{"t":22,"p":6},{"t":49.5,"p":6},{"t":78,"p":6},{"t":114.5,"p":6},{"t":139,"p":6},{"t":168,"p":6},{"t":198,"p":6},{"t":231,"p":6},
{"t":-2,"p":5},{"t":28,"p":5},{"t":60,"p":5},{"t":87.5,"p":5},{"t":120,"p":5},
{"t":-4.5,"p":4},{"t":24.5,"p":4},{"t":56,"p":4},
{"t":-3.5,"p":3},{"t":28,"p":3},{"t":59.7,"p":3},{"t":87.5,"p":3},{"t":122,"p":3},{"t":148,"p":3},{"t":179.5,"p":3},
{"t":-1,"p":2},{"t":26.5,"p":2},{"t":58.5,"p":2},
{"t":-28.5,"p":1},{"t":-3.8,"p":1},{"t":31,"p":1},{"t":61,"p":1},{"t":90,"p":1},{"t":119.5,"p":1},{"t":151,"p":1},{"t":181,"p":1}
]
},
"layer":[
{"data":{"name":"segments"},
 "mark":{"type":"rule","strokeWidth":35,"opacity":0.25,"strokeCap":"butt"},
 "encoding":{
  "x":{"field":"s","type":"quantitative","scale":{"domain":[-44.6,269.8],"nice":false,"zero":false},
   "axis":{"title":"time (mins)","values":[0,50,100,150,200,250],"grid":false,"labelFontSize":33.3,"titleFontSize":33.3,"titleFontWeight":"normal","labelColor":"#000000","titleColor":"#000000","tickColor":"#000000","domainColor":"#000000","tickSize":6,"labelPadding":4,"titlePadding":5,"labelFlush":false}},
  "x2":{"field":"e"},
  "y":{"field":"p","type":"quantitative","scale":{"domain":[-0.45,17.4],"nice":false,"zero":false},
   "axis":{"title":"pigid","values":[1,2,3,4,5,6,7,8,9,10,11,12,13,14,15,16],"grid":false,"labelFontSize":33.3,"titleFontSize":33.3,"titleFontWeight":"normal","labelColor":"#000000","titleColor":"#000000","tickColor":"#000000","domainColor":"#000000","tickSize":6,"labelPadding":5,"titlePadding":5}},
  "color":{"field":"c","type":"nominal","legend":null,"scale":{"domain":["blue","orange","green","red","pink","olive","cyan","brown","gray"],"range":["#1f77b4","#ff7f0e","#2ca02c","#d62728","#f7b6d2","#dbdb8d","#9edae5","#c49c94","#c7c7c7"]}}
 }},
{"data":{"name":"segments"},
 "mark":{"type":"rule","strokeWidth":27,"strokeCap":"butt"},
 "encoding":{
  "x":{"field":"s","type":"quantitative"},
  "x2":{"field":"e"},
  "y":{"field":"p","type":"quantitative"},
  "color":{"field":"c","type":"nominal","legend":null}
 }},
{"data":{"name":"scatter"},
 "mark":{"type":"circle","size":105,"fillOpacity":0.2,"strokeOpacity":0.2,"strokeWidth":1},
 "encoding":{
  "x":{"field":"t","type":"quantitative"},
  "y":{"field":"y","type":"quantitative"},
  "color":{"field":"c","type":"nominal","legend":null},
  "stroke":{"field":"c","type":"nominal","legend":null,"scale":{"domain":["blue","orange","green","red","pink","olive","cyan","brown","gray"],"range":["#1f77b4","#ff7f0e","#2ca02c","#d62728","#f7b6d2","#dbdb8d","#9edae5","#c49c94","#c7c7c7"]}}
 }},
{"data":{"name":"events"},
 "mark":{"type":"point","shape":"diamond","filled":true,"size":280,"color":"#000000","opacity":1},
 "encoding":{
  "x":{"field":"t","type":"quantitative"},
  "y":{"field":"p","type":"quantitative"}
 }}
]
}
